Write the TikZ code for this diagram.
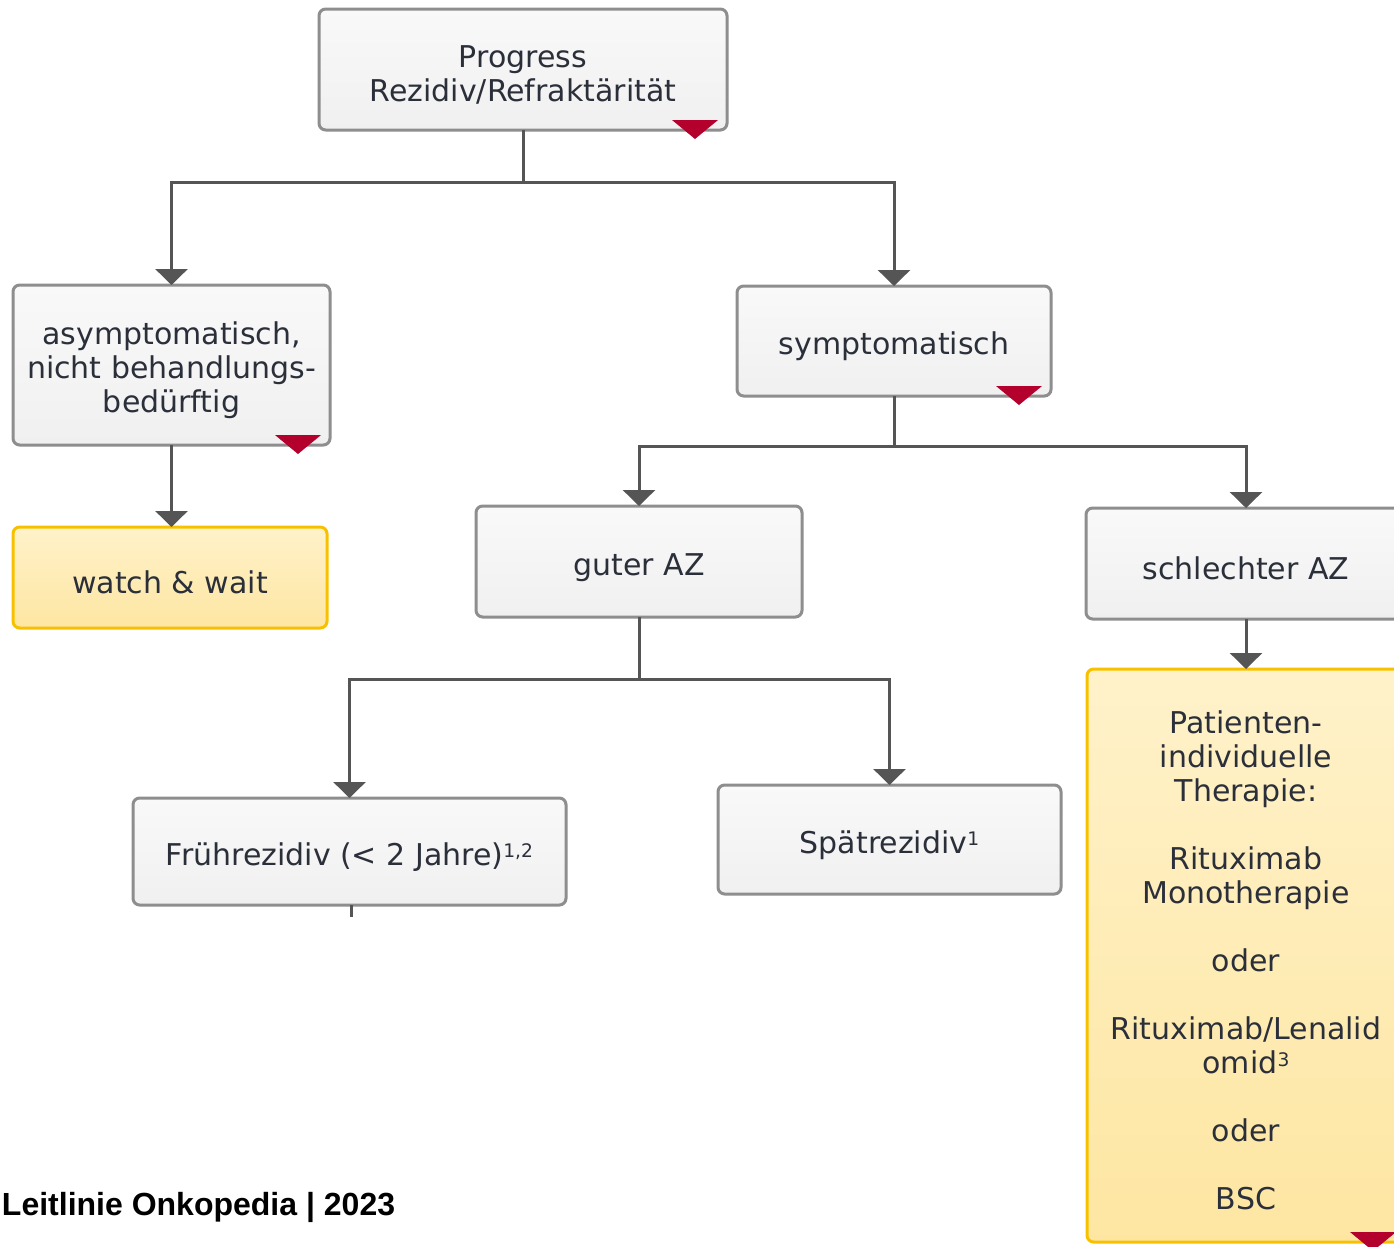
\documentclass[tikz,border=0pt]{standalone}
\usepackage{fontspec}
\setmainfont{DejaVu Sans}
\newfontfamily\footfont{Liberation Sans}
\usetikzlibrary{arrows.meta,calc}
\definecolor{boxline}{HTML}{8E8E8E}
\definecolor{boxtop}{HTML}{F9F9F9}
\definecolor{boxbot}{HTML}{F0F0F0}
\definecolor{yelline}{HTML}{F8C100}
\definecolor{yeltop}{HTML}{FFF2CA}
\definecolor{yelbot}{HTML}{FEE6A2}
\definecolor{conncol}{HTML}{555555}
\definecolor{markred}{HTML}{B4002D}
\definecolor{txt}{HTML}{2A2F3A}
\newcommand{\supnum}[1]{{\fontsize{14pt}{14pt}\selectfont\raisebox{5.5pt}{#1}}}
% tall strut on the first line: sets the text block a little below the box centre
\newcommand{\lowstrut}{\rule{0pt}{25pt}}
\begin{document}
\begin{tikzpicture}[x=0.75pt,y=-0.75pt,
  every node/.style={inner sep=0pt, outer sep=0pt},
  basebox/.style={line width=2.25pt, rounded corners=5pt, align=center,
    text=txt, font=\fontsize{22.5pt}{25.5pt}\selectfont},
  graybox/.style={basebox, draw=boxline, top color=boxtop, bottom color=boxbot},
  yelbox/.style={basebox, draw=yelline, top color=yeltop, bottom color=yelbot},
  conn/.style={draw=conncol, line width=2.25pt, -{Triangle[width=24pt,length=12pt]}},
  stub/.style={draw=conncol, line width=2.25pt},
  redmark/.style={fill=markred}]
\useasboundingbox (0,0) rectangle (1394,1246);
\clip (0,0) rectangle (1394,1246);

% boxes
\node[graybox, minimum width=306pt, minimum height=90.75pt] (top) at (523,69.5)
  {\lowstrut Progress\\Rezidiv/Refraktärität};
\node[graybox, minimum width=237.75pt, minimum height=120pt] (asym) at (171.5,365)
  {\lowstrut asymptomatisch,\\nicht behandlungs-\\bedürftig};
\node[yelbox, minimum width=235.5pt, minimum height=75.75pt] (watch) at (170,577.5)
  {\lowstrut watch \& wait};
\node[graybox, minimum width=235.5pt, minimum height=82.5pt] (sympt) at (894,341)
  {\lowstrut symptomatisch};
\node[graybox, minimum width=244.5pt, minimum height=83.25pt] (guter) at (639,561.5)
  {\lowstrut guter AZ};
\node[graybox, minimum width=240pt, minimum height=83.25pt] (schlecht) at (1246,563.5)
  {\lowstrut schlechter AZ};
\node[yelbox, minimum width=238.5pt, minimum height=429.75pt] (thera) at (1246,955.5)
  {\lowstrut Patienten-\\individuelle\\Therapie:\\[25.5pt]Rituximab\\Monotherapie\\[25.5pt]oder\\[25.5pt]Rituximab/Lenalid\\omid\supnum{3}\\[25.5pt]oder\\[25.5pt]BSC};
\node[graybox, minimum width=324.75pt, minimum height=80.25pt] (frueh) at (349.5,851.5)
  {\lowstrut Frührezidiv (< 2 Jahre)\supnum{1,2}};
\node[graybox, minimum width=257.25pt, minimum height=81.75pt] (spaet) at (889.5,839.5)
  {\lowstrut Spätrezidiv\supnum{1}};

% red corner markers
\foreach \n in {top,asym,sympt,thera}
  \fill[redmark] ($(\n.south east)+(-55,-10)$) -- ++(46,0) -- ++(-23,19) -- cycle;

% connectors
\coordinate (j1) at (top.south |- 0,182);
\draw[conn] (top.south) -- (j1) -| (asym.north);
\draw[conn] (j1) -| (sympt.north);
\draw[conn] (asym.south) -- (asym.south |- watch.north);
\coordinate (j2) at (sympt.south |- 0,446);
\draw[conn] (sympt.south) -- (j2) -| (guter.north);
\draw[conn] (j2) -| (schlecht.north);
\draw[conn] (schlecht.south) -- (thera.north);
\coordinate (j3) at (guter.south |- 0,679);
\draw[conn] (guter.south) -- (j3) -| (frueh.north);
\draw[conn] (j3) -| (spaet.north);
\coordinate (fstub) at ($(frueh.south)+(2,12)$);
\draw[stub] ($(frueh.south)+(2,0)$) -- (fstub);

% footer
\node[anchor=base west, font=\footfont\bfseries\fontsize{24pt}{28pt}\selectfont] (foot) at (2,1215)
  {Leitlinie Onkopedia | 2023};
\end{tikzpicture}
\end{document}
